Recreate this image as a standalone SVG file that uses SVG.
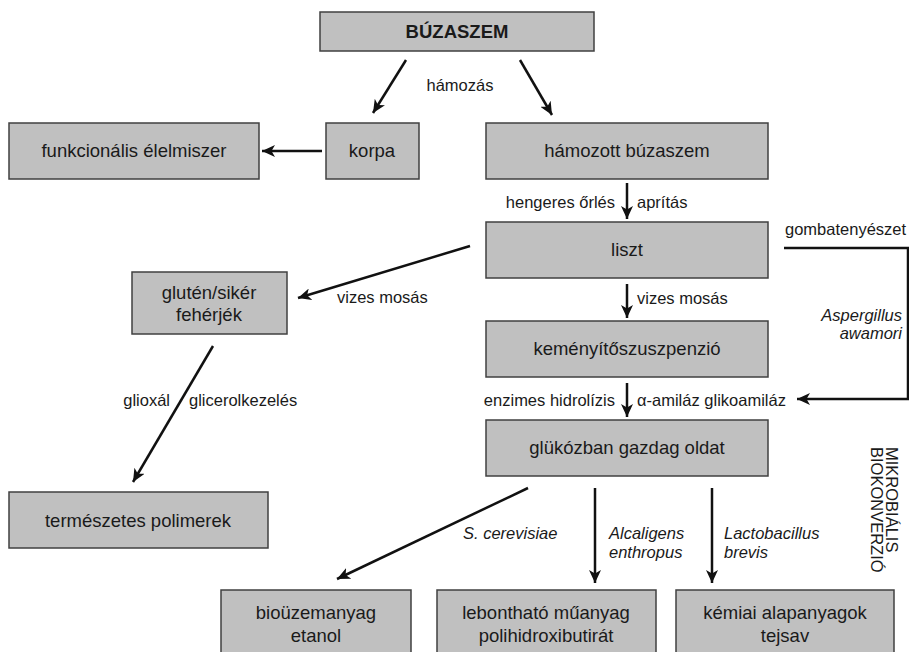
<svg xmlns="http://www.w3.org/2000/svg" width="909" height="652" viewBox="0 0 909 652">
<style>
.box{fill:#c0c0c0;stroke:#404040;stroke-width:1.5}
.nt{font-family:"Liberation Sans",Arial,sans-serif;font-size:18.5px;fill:#1a1a1a;text-anchor:middle}
.et{font-family:"Liberation Sans",Arial,sans-serif;font-size:16.5px;fill:#1a1a1a}
.it{font-style:italic}
.ln{stroke:#111;stroke-width:2.5;fill:none}
</style>
<defs>
<marker id="ah" markerUnits="userSpaceOnUse" markerWidth="14" markerHeight="12" refX="13" refY="6" orient="auto">
<path d="M0,0 L13,6 L0,12 L3.5,6 z" fill="#111"/>
</marker>
</defs>
<rect width="909" height="652" fill="#fff"/>
<g id="buzaszem"><rect class="box" x="320" y="12" width="274" height="39"/><text class="nt" x="457" y="38" font-weight="bold">BÚZASZEM</text></g>
<g id="funkcionalis"><rect class="box" x="9" y="123" width="250" height="56"/><text class="nt" x="134" y="157">funkcionális élelmiszer</text></g>
<g id="korpa"><rect class="box" x="326" y="123" width="93" height="56"/><text class="nt" x="372" y="157">korpa</text></g>
<g id="hamozott"><rect class="box" x="486" y="123" width="282" height="56"/><text class="nt" x="627" y="157">hámozott búzaszem</text></g>
<g id="liszt"><rect class="box" x="486" y="222" width="282" height="56"/><text class="nt" x="627" y="256">liszt</text></g>
<g id="gluten"><rect class="box" x="132" y="272" width="155" height="62"/><text class="nt" x="209" y="299">glutén/sikér</text><text class="nt" x="209" y="321">fehérjék</text></g>
<g id="kemenyito"><rect class="box" x="486" y="321" width="282" height="56"/><text class="nt" x="627" y="355">keményítőszuszpenzió</text></g>
<g id="glukoz"><rect class="box" x="486" y="420" width="282" height="56"/><text class="nt" x="627" y="454">glükózban gazdag oldat</text></g>
<g id="termeszetes"><rect class="box" x="9" y="492" width="259" height="56"/><text class="nt" x="138" y="527">természetes polimerek</text></g>
<g id="biouzem"><rect class="box" x="221" y="590" width="190" height="70"/><text class="nt" x="316" y="619">bioüzemanyag</text><text class="nt" x="316" y="642">etanol</text></g>
<g id="lebonthato"><rect class="box" x="437" y="590" width="219" height="70"/><text class="nt" x="546" y="619">lebontható műanyag</text><text class="nt" x="546" y="642">polihidroxibutirát</text></g>
<g id="kemiai"><rect class="box" x="676" y="590" width="218" height="70"/><text class="nt" x="785" y="619">kémiai alapanyagok</text><text class="nt" x="785" y="642">tejsav</text></g>
<g id="connectors">
<line class="ln" x1="406" y1="60" x2="373" y2="113" marker-end="url(#ah)"/>
<line class="ln" x1="520" y1="60" x2="552" y2="115" marker-end="url(#ah)"/>
<line class="ln" x1="322" y1="151" x2="262" y2="151" marker-end="url(#ah)"/>
<line class="ln" x1="627" y1="183" x2="627" y2="219" marker-end="url(#ah)"/>
<line class="ln" x1="470" y1="246" x2="298" y2="298" marker-end="url(#ah)"/>
<line class="ln" x1="627" y1="284" x2="627" y2="318" marker-end="url(#ah)"/>
<polyline class="ln" points="784,248 908,248 908,399 797,399" marker-end="url(#ah)"/>
<line class="ln" x1="627" y1="383" x2="627" y2="417" marker-end="url(#ah)"/>
<line class="ln" x1="213" y1="346" x2="133" y2="482" marker-end="url(#ah)"/>
<line class="ln" x1="528" y1="488" x2="337" y2="579" marker-end="url(#ah)"/>
<line class="ln" x1="595" y1="488" x2="595" y2="583" marker-end="url(#ah)"/>
<line class="ln" x1="712" y1="488" x2="712" y2="583" marker-end="url(#ah)"/>
</g>
<g id="labels">
<text class="et" x="460" y="91" text-anchor="middle">hámozás</text>
<text class="et" x="615" y="208" text-anchor="end">hengeres őrlés</text>
<text class="et" x="637" y="208">aprítás</text>
<text class="et" x="785" y="235">gombatenyészet</text>
<text class="et" x="337" y="303">vizes mosás</text>
<text class="et" x="637" y="304">vizes mosás</text>
<text class="et it" x="902" y="321" text-anchor="end">Aspergillus</text>
<text class="et it" x="902" y="339" text-anchor="end">awamori</text>
<text class="et" x="615" y="406" text-anchor="end">enzimes hidrolízis</text>
<text class="et" x="637" y="406">α-amiláz glikoamiláz</text>
<text class="et" x="170" y="406" text-anchor="end">glioxál</text>
<text class="et" x="189" y="406">glicerolkezelés</text>
<text class="et" transform="translate(886,447) rotate(90)">MIKROBIÁLIS<tspan x="0" y="15">BIOKONVERZIÓ</tspan></text>
<text class="et it" x="463" y="539">S. cerevisiae</text>
<text class="et it" x="609" y="539">Alcaligens</text>
<text class="et it" x="609" y="558">enthropus</text>
<text class="et it" x="724" y="539">Lactobacillus</text>
<text class="et it" x="724" y="558">brevis</text>
</g>
</svg>
